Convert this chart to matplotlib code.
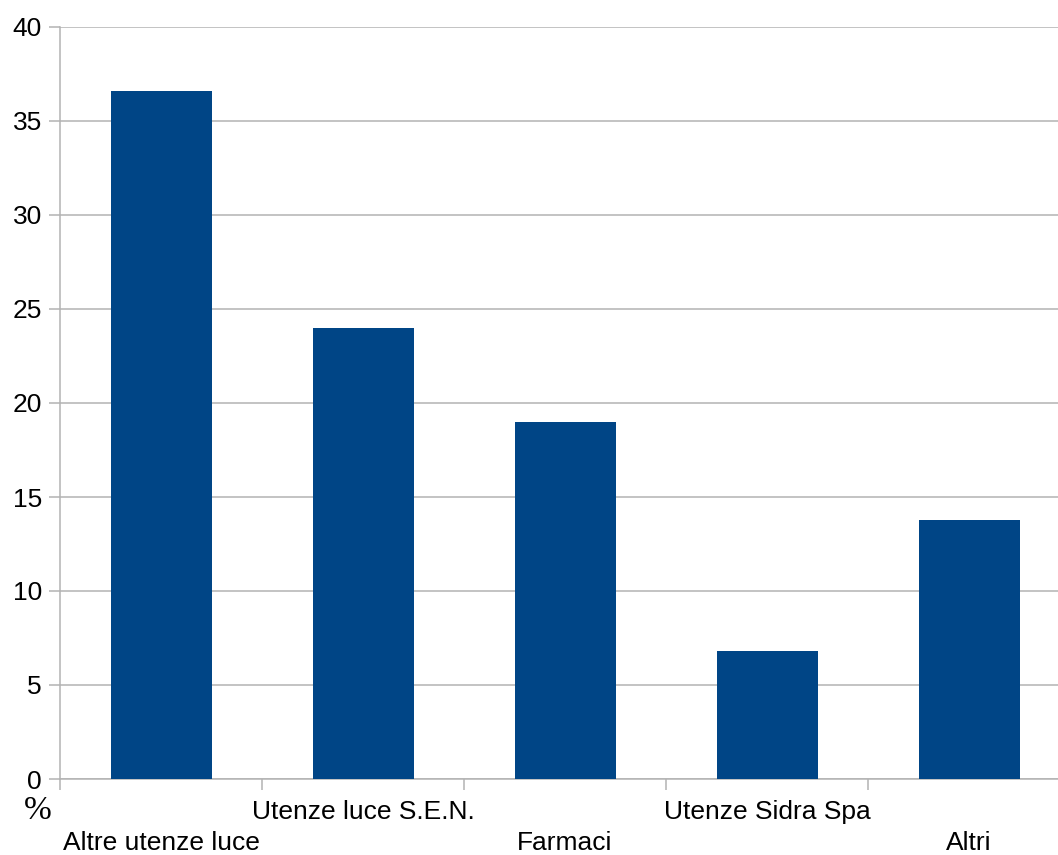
import matplotlib
matplotlib.use("Agg")
import matplotlib.pyplot as plt
from matplotlib.transforms import blended_transform_factory

categories = ["Altre utenze luce", "Utenze luce S.E.N.", "Farmaci",
              "Utenze Sidra Spa", "Altri"]
values = [36.6, 24.0, 19.0, 6.8, 13.8]
yticks = [0, 5, 10, 15, 20, 25, 30, 35, 40]

BAR_COLOR = "#004586"
GRID_COLOR = "#b3b3b3"
FS = 19

plt.rcParams["font.family"] = ["Liberation Sans", "DejaVu Sans"]

W, H = 1058, 855
fig = plt.figure(figsize=(W / 100, H / 100), dpi=100)
left, right, top, bottom = 60, 1070, 27, 779
ax = fig.add_axes([left / W, (H - bottom) / H, (right - left) / W, (bottom - top) / H])

x = list(range(len(categories)))
ax.bar(x, values, width=0.5, color=BAR_COLOR, zorder=3)

ax.set_xlim(-0.5, len(categories) - 0.5)
ax.set_ylim(0, 40)
ax.set_yticks(yticks)
ax.set_yticklabels([str(t) for t in yticks], fontsize=FS, color="#000000")
ax.yaxis.grid(True, color=GRID_COLOR, linewidth=1.1, zorder=0)
ax.tick_params(axis="y", length=8, width=1.1, color=GRID_COLOR, pad=5)

# category boundaries carry the tick marks; names are placed in two rows
ax.set_xticks([i - 0.5 for i in range(len(categories))])
ax.set_xticklabels([])
ax.tick_params(axis="x", length=8, width=1.1, color=GRID_COLOR)

for s in ["top", "right"]:
    ax.spines[s].set_visible(False)
for s in ["left", "bottom"]:
    ax.spines[s].set_color(GRID_COLOR)
    ax.spines[s].set_linewidth(1.1)

trans = blended_transform_factory(ax.transData, ax.transAxes)
for i, name in enumerate(categories):
    off = -46 if i % 2 == 0 else -24
    ax.annotate(name, xy=(i, 0), xycoords=trans, xytext=(0, off),
                textcoords="offset points", ha="center", va="center",
                fontsize=FS, color="#000000", annotation_clip=False)

fig.text(38 / W, 1 - 811 / H, "%", ha="center", va="center", fontsize=24,
         family=["Liberation Serif", "DejaVu Serif"])

fig.savefig("out.png", dpi=100, facecolor="white")
